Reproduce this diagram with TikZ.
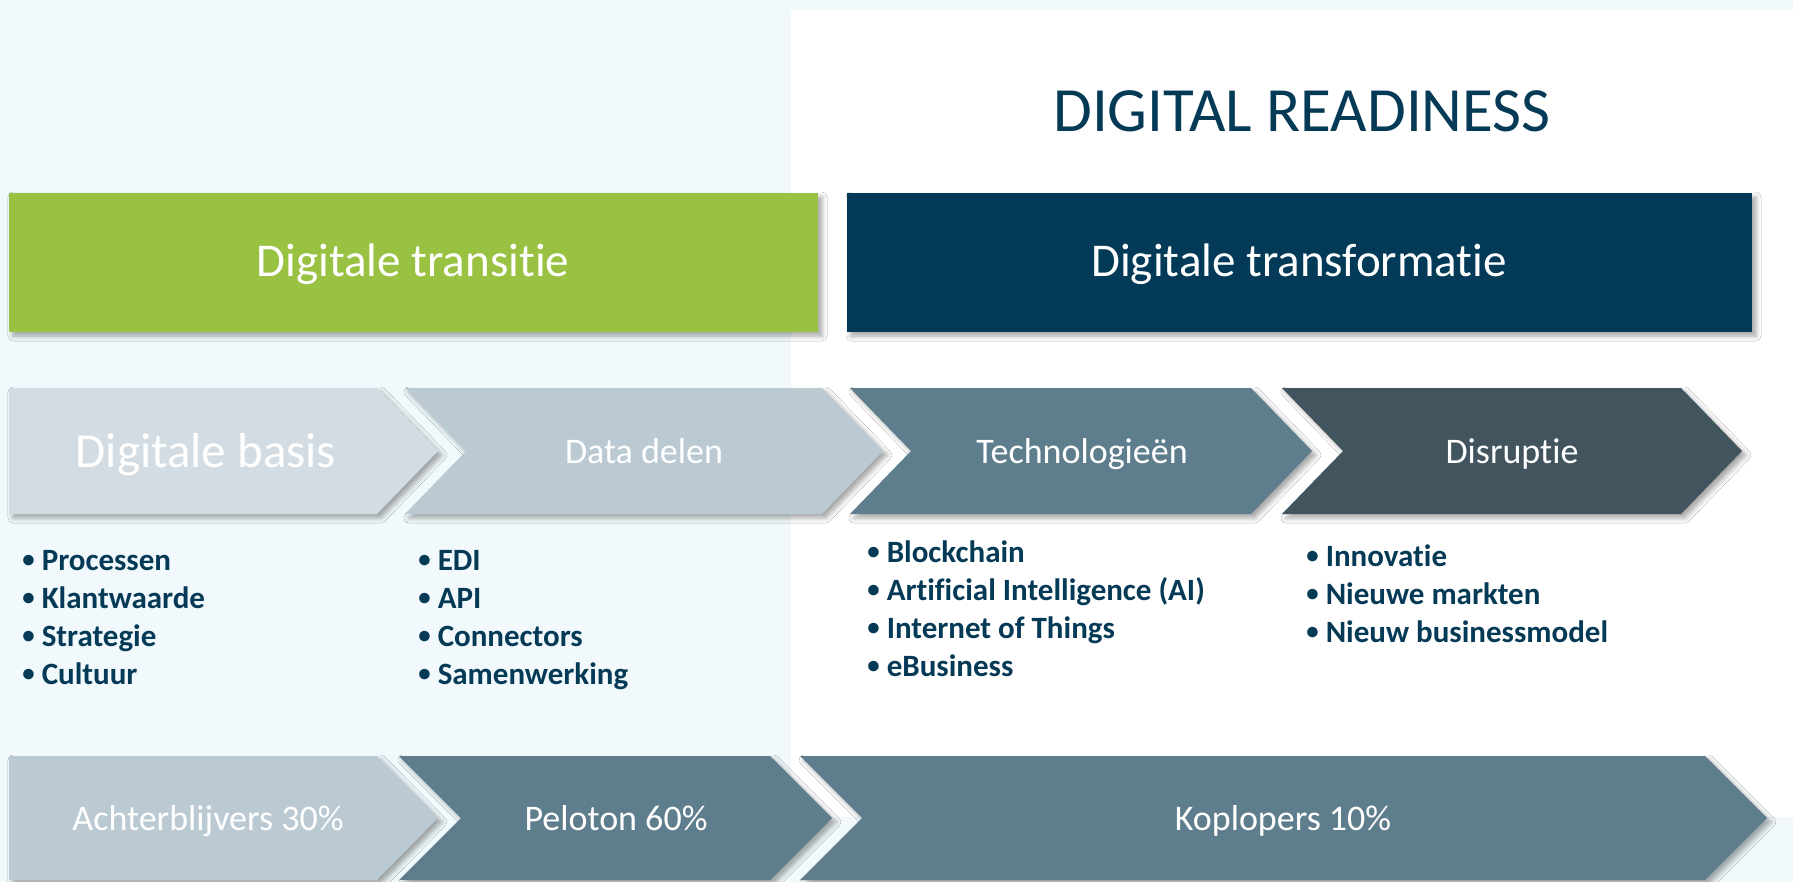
\documentclass[tikz,border=0pt]{standalone}
\usepackage{fontspec}
\setmainfont[Ligatures=CommonOff]{Carlito}
\usetikzlibrary{shadows.blur}

\definecolor{lightbg}{HTML}{F1F9FC}
\definecolor{textnavy}{HTML}{053A56}
\definecolor{transgreen}{HTML}{99C142}
\definecolor{transnavy}{HTML}{023A57}
\definecolor{basisgray}{HTML}{D3DCE3}
\definecolor{datagray}{HTML}{BBCAD2}
\definecolor{techblue}{HTML}{5F7E8D}
\definecolor{disrslate}{HTML}{42555F}

\newcommand{\bul}{\raisebox{0.15ex}{\scalebox{0.8}{•}}\ }

\tikzset{
  softshadow/.style={blur shadow={shadow xshift=2pt,shadow yshift=-2pt,shadow blur radius=2.5pt,shadow opacity=35}},
  boxtext/.style={anchor=base,text=white,font=\fontsize{23.5}{28}\selectfont},
  steptext/.style={anchor=base,text=white,font=\fontsize{18}{22}\selectfont},
  listitem/.style={anchor=base west,text=textnavy,font=\bfseries\fontsize{15.5}{19}\selectfont}
}

\begin{document}
\begin{tikzpicture}[x=0.5pt,y=-0.5pt]
\tikzstyle{every node}+=[inner sep=0pt]
\fill [lightbg] (0,0) rectangle (1793,882);
\useasboundingbox (0,0) rectangle (1793,882);
\fill [white] (791,10) rectangle (1793,817);

\node [anchor=base,text=textnavy,font=\fontsize{31.5}{38}\selectfont] (readiness) at (1302,132) {DIGITAL READINESS};

\fill [transgreen,softshadow] (9,193) rectangle (818,332);
\node [boxtext] (transitie) at (413,277) {Digitale transitie};
\fill [transnavy,softshadow] (847,193) rectangle (1752,332);
\node [boxtext] (transformatie) at (1299,277) {Digitale transformatie};

% fases
\fill [basisgray,softshadow] (9,388) -- (377,388) -- (438,451) -- (377,514) -- (9,514) -- cycle;
\node [anchor=base,text=white,font=\fontsize{24.5}{30}\selectfont] (basis) at (206,467) {Digitale basis};
\fill [datagray,softshadow] (405,388) -- (822,388) -- (883,451) -- (822,514) -- (405,514) -- (466,451) -- cycle;
\node [steptext] (datadelen) at (644,463) {Data delen};
\fill [techblue,softshadow] (850,388) -- (1251,388) -- (1312,451) -- (1251,514) -- (850,514) -- (911,451) -- cycle;
\node [steptext] (techno) at (1082,463) {Technologieën};
\fill [disrslate,softshadow] (1282,388) -- (1681,388) -- (1742,451) -- (1681,514) -- (1282,514) -- (1343,451) -- cycle;
\node [steptext] (disruptie) at (1512,463) {Disruptie};

\node [listitem] (proc) at (22,570) {\bul Processen};
\node [listitem] (klant) at (22,608) {\bul Klantwaarde};
\node [listitem] (strat) at (22,646) {\bul Strategie};
\node [listitem] (cult) at (22,684) {\bul Cultuur};
\node [listitem] (edi) at (418,570) {\bul EDI};
\node [listitem] (api) at (418,608) {\bul API};
\node [listitem] (conn) at (418,646) {\bul Connectors};
\node [listitem] (samen) at (418,684) {\bul Samenwerking};
\node [listitem] (block) at (867,562) {\bul Blockchain};
\node [listitem] (ai) at (867,600) {\bul Artificial Intelligence (AI)};
\node [listitem] (iot) at (867,638) {\bul Internet of Things};
\node [listitem] (ebus) at (867,676) {\bul eBusiness};
\node [listitem] (innov) at (1306,566) {\bul Innovatie};
\node [listitem] (markt) at (1306,604) {\bul Nieuwe markten};
\node [listitem] (model) at (1306,642) {\bul Nieuw businessmodel};

% groepen
\fill [datagray,softshadow] (9,756) -- (377,756) -- (438,818) -- (377,880) -- (9,880) -- cycle;
\node [steptext] (achter) at (208,830) {Achterblijvers 30\%};
\fill [techblue,softshadow] (399,756) -- (770,756) -- (832,818) -- (770,880) -- (399,880) -- (461,818) -- cycle;
\node [steptext] (peloton) at (616,830) {Peloton 60\%};
\fill [techblue,softshadow] (800,756) -- (1705,756) -- (1767,818) -- (1705,880) -- (800,880) -- (862,818) -- cycle;
\node [steptext] (kop) at (1283,830) {Koplopers 10\%};
\end{tikzpicture}
\end{document}
